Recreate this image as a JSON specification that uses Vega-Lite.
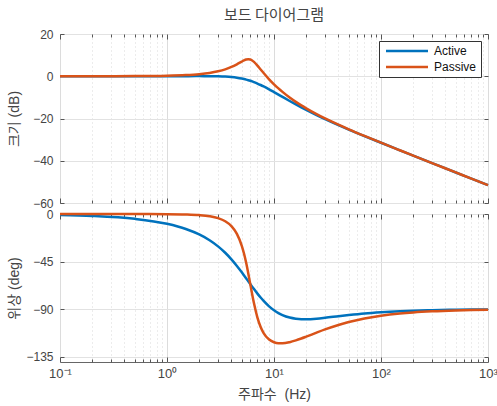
{
  "$schema": "https://vega.github.io/schema/vega-lite/v6.json",
  "autosize": "pad",
  "padding": {"left": 7, "top": 8, "right": 5, "bottom": 5},
  "background": "white",
  "config": {
    "font": "Liberation Sans, Noto Sans CJK KR",
    "view": {"stroke": "#666", "strokeWidth": 1},
    "axis": {
      "labelColor": "#444",
      "titleColor": "#444",
      "labelFontSize": 12,
      "titleFontSize": 14,
      "titleFontWeight": "normal",
      "tickColor": "#555",
      "domain": false,
      "gridColor": "#e2e2e2",
      "gridWidth": 1
    }
  },
  "title": {
    "text": "보드 다이어그램",
    "font": "Noto Sans CJK KR",
    "fontSize": 15,
    "fontWeight": "normal",
    "color": "#444",
    "anchor": "middle",
    "frame": "group",
    "offset": 4.5
  },
  "data": {
    "values": [
      {"frequency": 0.1, "series": "Active", "magnitude": 0.0, "phase": -0.92},
      {"frequency": 0.2, "series": "Active", "magnitude": 0.0, "phase": -1.83},
      {"frequency": 0.5, "series": "Active", "magnitude": 0.01, "phase": -4.6},
      {"frequency": 1, "series": "Active", "magnitude": 0.03, "phase": -9.3},
      {"frequency": 1.5, "series": "Active", "magnitude": 0.05, "phase": -14.19},
      {"frequency": 2, "series": "Active", "magnitude": 0.06, "phase": -19.36},
      {"frequency": 2.5, "series": "Active", "magnitude": 0.04, "phase": -24.83},
      {"frequency": 3, "series": "Active", "magnitude": -0.02, "phase": -30.62},
      {"frequency": 3.5, "series": "Active", "magnitude": -0.15, "phase": -36.67},
      {"frequency": 4, "series": "Active", "magnitude": -0.36, "phase": -42.89},
      {"frequency": 4.5, "series": "Active", "magnitude": -0.67, "phase": -49.12},
      {"frequency": 5, "series": "Active", "magnitude": -1.08, "phase": -55.18},
      {"frequency": 5.25, "series": "Active", "magnitude": -1.32, "phase": -58.11},
      {"frequency": 5.5, "series": "Active", "magnitude": -1.58, "phase": -60.94},
      {"frequency": 5.75, "series": "Active", "magnitude": -1.86, "phase": -63.66},
      {"frequency": 6, "series": "Active", "magnitude": -2.15, "phase": -66.25},
      {"frequency": 6.25, "series": "Active", "magnitude": -2.46, "phase": -68.72},
      {"frequency": 6.5, "series": "Active", "magnitude": -2.79, "phase": -71.05},
      {"frequency": 7, "series": "Active", "magnitude": -3.45, "phase": -75.3},
      {"frequency": 7.5, "series": "Active", "magnitude": -4.14, "phase": -79.01},
      {"frequency": 8, "series": "Active", "magnitude": -4.83, "phase": -82.22},
      {"frequency": 9, "series": "Active", "magnitude": -6.19, "phase": -87.34},
      {"frequency": 10, "series": "Active", "magnitude": -7.48, "phase": -91.05},
      {"frequency": 11, "series": "Active", "magnitude": -8.67, "phase": -93.72},
      {"frequency": 12, "series": "Active", "magnitude": -9.77, "phase": -95.62},
      {"frequency": 14, "series": "Active", "magnitude": -11.71, "phase": -97.94},
      {"frequency": 16, "series": "Active", "magnitude": -13.34, "phase": -99.02},
      {"frequency": 18, "series": "Active", "magnitude": -14.74, "phase": -99.45},
      {"frequency": 20, "series": "Active", "magnitude": -15.95, "phase": -99.51},
      {"frequency": 25, "series": "Active", "magnitude": -18.4, "phase": -98.99},
      {"frequency": 30, "series": "Active", "magnitude": -20.3, "phase": -98.18},
      {"frequency": 40, "series": "Active", "magnitude": -23.13, "phase": -96.7},
      {"frequency": 50, "series": "Active", "magnitude": -25.23, "phase": -95.59},
      {"frequency": 70, "series": "Active", "magnitude": -28.31, "phase": -94.09},
      {"frequency": 100, "series": "Active", "magnitude": -31.49, "phase": -92.94},
      {"frequency": 150, "series": "Active", "magnitude": -35.05, "phase": -91.98},
      {"frequency": 200, "series": "Active", "magnitude": -37.57, "phase": -91.49},
      {"frequency": 300, "series": "Active", "magnitude": -41.1, "phase": -91.0},
      {"frequency": 500, "series": "Active", "magnitude": -45.55, "phase": -90.6},
      {"frequency": 700, "series": "Active", "magnitude": -48.47, "phase": -90.43},
      {"frequency": 1000, "series": "Active", "magnitude": -51.57, "phase": -90.3},
      {"frequency": 0.1, "series": "Passive", "magnitude": 0.0, "phase": 0.0},
      {"frequency": 0.2, "series": "Passive", "magnitude": 0.01, "phase": 0.0},
      {"frequency": 0.5, "series": "Passive", "magnitude": 0.06, "phase": -0.01},
      {"frequency": 1, "series": "Passive", "magnitude": 0.24, "phase": -0.12},
      {"frequency": 1.5, "series": "Passive", "magnitude": 0.55, "phase": -0.42},
      {"frequency": 2, "series": "Passive", "magnitude": 1.0, "phase": -1.03},
      {"frequency": 2.5, "series": "Passive", "magnitude": 1.59, "phase": -2.12},
      {"frequency": 3, "series": "Passive", "magnitude": 2.35, "phase": -3.94},
      {"frequency": 3.5, "series": "Passive", "magnitude": 3.28, "phase": -6.87},
      {"frequency": 4, "series": "Passive", "magnitude": 4.4, "phase": -11.48},
      {"frequency": 4.5, "series": "Passive", "magnitude": 5.67, "phase": -18.77},
      {"frequency": 5, "series": "Passive", "magnitude": 6.97, "phase": -30.05},
      {"frequency": 5.25, "series": "Passive", "magnitude": 7.52, "phase": -37.61},
      {"frequency": 5.5, "series": "Passive", "magnitude": 7.91, "phase": -46.43},
      {"frequency": 5.75, "series": "Passive", "magnitude": 8.05, "phase": -56.18},
      {"frequency": 6, "series": "Passive", "magnitude": 7.9, "phase": -66.25},
      {"frequency": 6.25, "series": "Passive", "magnitude": 7.46, "phase": -75.89},
      {"frequency": 6.5, "series": "Passive", "magnitude": 6.78, "phase": -84.52},
      {"frequency": 7, "series": "Passive", "magnitude": 5.06, "phase": -97.95},
      {"frequency": 7.5, "series": "Passive", "magnitude": 3.23, "phase": -106.83},
      {"frequency": 8, "series": "Passive", "magnitude": 1.51, "phase": -112.57},
      {"frequency": 9, "series": "Passive", "magnitude": -1.44, "phase": -118.75},
      {"frequency": 10, "series": "Passive", "magnitude": -3.81, "phase": -121.33},
      {"frequency": 11, "series": "Passive", "magnitude": -5.77, "phase": -122.25},
      {"frequency": 12, "series": "Passive", "magnitude": -7.41, "phase": -122.3},
      {"frequency": 14, "series": "Passive", "magnitude": -10.06, "phase": -121.24},
      {"frequency": 16, "series": "Passive", "magnitude": -12.12, "phase": -119.57},
      {"frequency": 18, "series": "Passive", "magnitude": -13.8, "phase": -117.78},
      {"frequency": 20, "series": "Passive", "magnitude": -15.2, "phase": -116.04},
      {"frequency": 25, "series": "Passive", "magnitude": -17.94, "phase": -112.22},
      {"frequency": 30, "series": "Passive", "magnitude": -19.98, "phase": -109.2},
      {"frequency": 40, "series": "Passive", "magnitude": -22.95, "phase": -104.96},
      {"frequency": 50, "series": "Passive", "magnitude": -25.12, "phase": -102.19},
      {"frequency": 70, "series": "Passive", "magnitude": -28.25, "phase": -98.8},
      {"frequency": 100, "series": "Passive", "magnitude": -31.46, "phase": -96.24},
      {"frequency": 150, "series": "Passive", "magnitude": -35.04, "phase": -94.18},
      {"frequency": 200, "series": "Passive", "magnitude": -37.56, "phase": -93.14},
      {"frequency": 300, "series": "Passive", "magnitude": -41.1, "phase": -92.1},
      {"frequency": 500, "series": "Passive", "magnitude": -45.54, "phase": -91.26},
      {"frequency": 700, "series": "Passive", "magnitude": -48.47, "phase": -90.9},
      {"frequency": 1000, "series": "Passive", "magnitude": -51.57, "phase": -90.63}
    ]
  },
  "spacing": 11,
  "bounds": "flush",
  "vconcat": [
    {
      "width": 428,
      "height": 169,
      "layer": [
        {
          "mark": {"type": "line", "strokeWidth": 2.5, "interpolate": "monotone"},
          "encoding": {
            "x": {
              "field": "frequency", "type": "quantitative",
              "scale": {"type": "log", "domain": [0.1, 1000]},
              "axis": {
                "orient": "bottom",
                "values": [0.1,0.2,0.3,0.4,0.5,0.6,0.7,0.8,0.9,1,2,3,4,5,6,7,8,9,10,20,30,40,50,60,70,80,90,100,200,300,400,500,600,700,800,900,1000],
                "labels": false,
                "title": null,
                "tickSize": {"condition": {"test": "indexof([0.1,1,10,100,1000], datum.value) >= 0", "value": -5}, "value": -3},
                "gridDash": {"condition": {"test": "indexof([0.1,1,10,100,1000], datum.value) >= 0", "value": []}, "value": [1, 3]},
                "gridColor": {"condition": {"test": "indexof([0.1,1,10,100,1000], datum.value) >= 0", "value": "#dcdcdc"}, "value": "#d8d8d8"}
              }
            },
            "y": {
              "field": "magnitude", "type": "quantitative",
              "scale": {"domain": [-60, 20]},
              "axis": {
                "values": [-60, -40, -20, 0, 20],
                "title": "크기 (dB)",
                "tickSize": -4,
                "labelPadding": 11,
                "titlePadding": 11
              }
            },
            "color": {
              "field": "series", "type": "nominal",
              "scale": {"domain": ["Active", "Passive"], "range": ["#0072BD", "#D95319"]},
              "legend": {
                "title": null,
                "orient": "top-right",
                "offset": 7,
                "padding": 4,
                "fillColor": "white",
                "strokeColor": "#333",
                "cornerRadius": 0,
                "symbolType": "M-1,0H13",
                "symbolSize": 36,
                "symbolStrokeWidth": 2.5,
                "labelFontSize": 12,
                "labelColor": "#111",
                "labelOffset": 39,
                "rowPadding": 4
              }
            }
          }
        },
        {
          "mark": {"type": "line", "opacity": 0},
          "encoding": {
            "x": {
              "field": "frequency", "type": "quantitative",
              "axis": {
                "orient": "top",
                "values": [0.1,0.2,0.3,0.4,0.5,0.6,0.7,0.8,0.9,1,2,3,4,5,6,7,8,9,10,20,30,40,50,60,70,80,90,100,200,300,400,500,600,700,800,900,1000],
                "labels": false, "grid": false, "title": null,
                "tickSize": {"condition": {"test": "indexof([0.1,1,10,100,1000], datum.value) >= 0", "value": -5}, "value": -3}
              }
            },
            "y": {
              "field": "magnitude", "type": "quantitative",
              "axis": {"orient": "right", "values": [-60, -40, -20, 0, 20], "labels": false, "grid": false, "title": null, "tickSize": -4}
            },
            "detail": {"field": "series"}
          }
        }
      ],
      "resolve": {"axis": {"x": "independent", "y": "independent"}}
    },
    {
      "width": 428,
      "height": 148,
      "layer": [
        {
          "mark": {"type": "line", "strokeWidth": 2.5, "interpolate": "monotone"},
          "encoding": {
            "x": {
              "field": "frequency", "type": "quantitative",
              "scale": {"type": "log", "domain": [0.1, 1000]},
              "axis": {
                "orient": "bottom",
                "values": [0.1,0.2,0.3,0.4,0.5,0.6,0.7,0.8,0.9,1,2,3,4,5,6,7,8,9,10,20,30,40,50,60,70,80,90,100,200,300,400,500,600,700,800,900,1000],
                "labelExpr": "datum.value == 0.1 ? '10⁻¹' : datum.value == 1 ? '10⁰' : datum.value == 10 ? '10¹' : datum.value == 100 ? '10²' : datum.value == 1000 ? '10³' : ''",
                "labelFlush": false,
                "labelOverlap": false,
                "labelFontSize": 13,
                "labelPadding": 10,
                "title": "주파수\u00a0 (Hz)",
                "titlePadding": 5,
                "tickSize": {"condition": {"test": "indexof([0.1,1,10,100,1000], datum.value) >= 0", "value": -5}, "value": -3},
                "gridDash": {"condition": {"test": "indexof([0.1,1,10,100,1000], datum.value) >= 0", "value": []}, "value": [1, 3]},
                "gridColor": {"condition": {"test": "indexof([0.1,1,10,100,1000], datum.value) >= 0", "value": "#dcdcdc"}, "value": "#d8d8d8"}
              }
            },
            "y": {
              "field": "phase", "type": "quantitative",
              "scale": {"domain": [-135, 0]},
              "axis": {
                "values": [-135, -90, -45, 0],
                "title": "위상 (deg)",
                "tickSize": -4,
                "labelPadding": 11,
                "titlePadding": 4
              }
            },
            "color": {
              "field": "series", "type": "nominal",
              "scale": {"domain": ["Active", "Passive"], "range": ["#0072BD", "#D95319"]},
              "legend": null
            }
          }
        },
        {
          "mark": {"type": "line", "opacity": 0},
          "encoding": {
            "x": {
              "field": "frequency", "type": "quantitative",
              "axis": {
                "orient": "top",
                "values": [0.1,0.2,0.3,0.4,0.5,0.6,0.7,0.8,0.9,1,2,3,4,5,6,7,8,9,10,20,30,40,50,60,70,80,90,100,200,300,400,500,600,700,800,900,1000],
                "labels": false, "grid": false, "title": null,
                "tickSize": {"condition": {"test": "indexof([0.1,1,10,100,1000], datum.value) >= 0", "value": -5}, "value": -3}
              }
            },
            "y": {
              "field": "phase", "type": "quantitative",
              "axis": {"orient": "right", "values": [-135, -90, -45, 0], "labels": false, "grid": false, "title": null, "tickSize": -4}
            },
            "detail": {"field": "series"}
          }
        }
      ],
      "resolve": {"axis": {"x": "independent", "y": "independent"}}
    }
  ],
  "resolve": {"legend": {"color": "independent"}}
}
